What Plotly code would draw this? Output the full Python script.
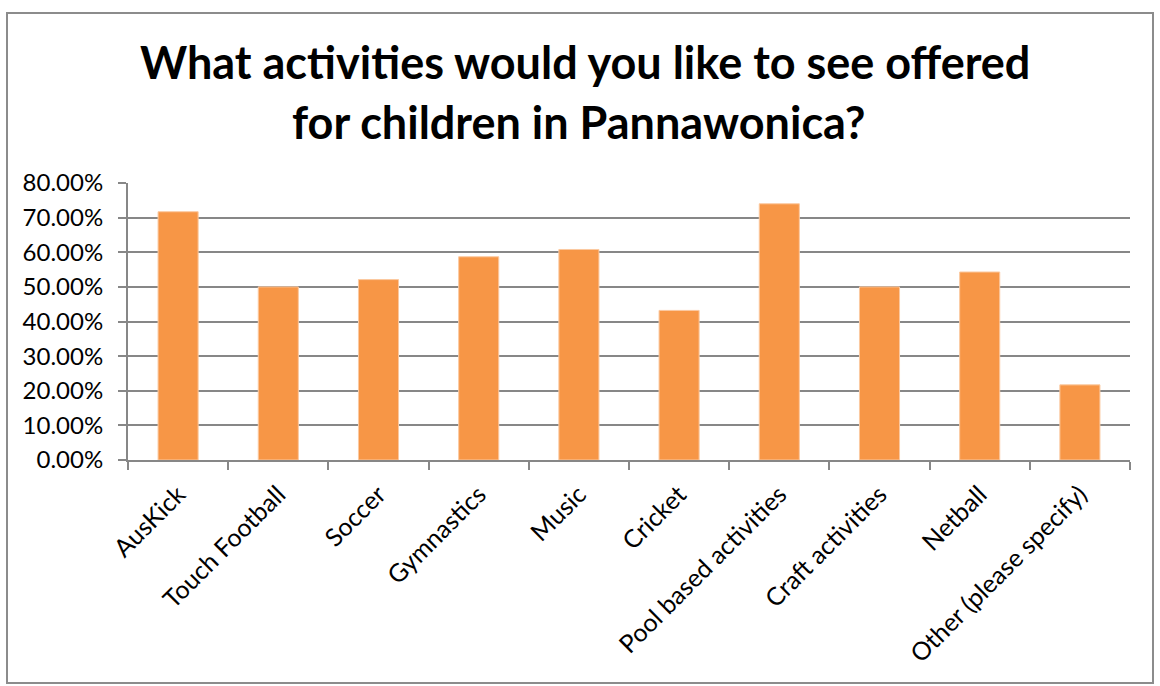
import plotly.graph_objects as go

categories = ["AusKick", "Touch Football", "Soccer", "Gymnastics", "Music",
              "Cricket", "Pool based activities", "Craft activities", "Netball",
              "Other (please specify)"]
values = [71.7, 50.0, 52.1, 58.7, 60.8, 43.2, 74.0, 50.0, 54.3, 21.7]
title_lines = ["What activities would you like to see offered",
               "for children in Pannawonica?"]

W, H = 1160, 686
L, R, T, B = 128, 1130, 183, 460
pw, ph = R - L, B - T

def px(x):
    return (x - L) / pw

def py(y):
    return (B - y) / ph

FONT = "Lato, Open Sans, sans-serif"
GRID = "#878787"

fig = go.Figure(go.Bar(
    x=categories, y=values,
    marker=dict(color="#F79646", line=dict(color="#FBC9A0", width=1)),
    width=0.4,
))

fig.update_layout(
    width=W, height=H,
    margin=dict(l=L, r=W - R, t=T, b=H - B),
    paper_bgcolor="white", plot_bgcolor="white",
    showlegend=False,
    font=dict(family=FONT, color="black"),
    xaxis=dict(
        showline=True, linecolor=GRID, linewidth=2,
        ticks="outside", tickson="boundaries", ticklen=8, tickcolor=GRID, tickwidth=2,
        tickangle=-45, tickfont=dict(size=25, family=FONT, color="black"),
        ticklabelstandoff=8,
        showgrid=False,
    ),
    yaxis=dict(
        range=[0, 80], dtick=10, tickformat=".2f", ticksuffix="%",
        showgrid=True, gridcolor=GRID, gridwidth=2,
        showline=True, linecolor=GRID, linewidth=2,
        ticks="outside", ticklen=8, tickcolor=GRID, tickwidth=2,
        tickfont=dict(size=24, family=FONT, color="black"),
        ticklabelstandoff=10,
        zeroline=False,
    ),
    annotations=[
        dict(text=f"<b>{title_lines[0]}</b>", x=px(585), y=py(62), xref="paper", yref="paper",
             xanchor="center", yanchor="middle", showarrow=False,
             font=dict(size=45, family=FONT, color="black")),
        dict(text=f"<b>{title_lines[1]}</b>", x=px(579), y=py(122), xref="paper", yref="paper",
             xanchor="center", yanchor="middle", showarrow=False,
             font=dict(size=45, family=FONT, color="black")),
    ],
    shapes=[
        dict(type="rect", xref="paper", yref="paper",
             x0=px(7), x1=px(1153), y0=py(683), y1=py(13),
             line=dict(color="#8C8C8C", width=2), fillcolor="rgba(0,0,0,0)", layer="below"),
    ],
)

fig.write_html("out.html",
               config={"displayModeBar": False},
               post_script="document.body.style.margin='0';document.body.style.padding='0';")
